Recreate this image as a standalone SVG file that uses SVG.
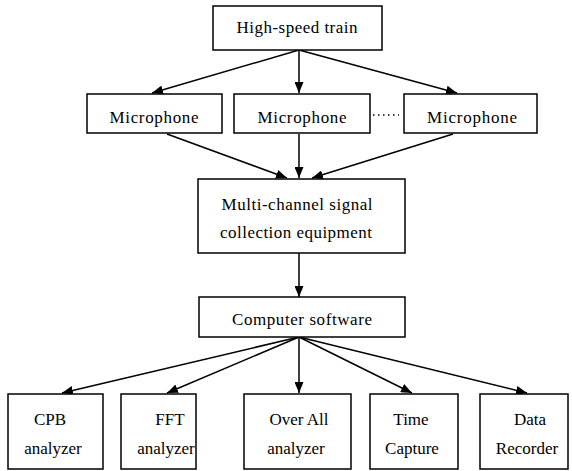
<svg xmlns="http://www.w3.org/2000/svg" width="572" height="471" viewBox="0 0 572 471">
<defs>
<style>
.box{fill:#fff;stroke:#000;stroke-width:1.5}
.t{font-family:'Liberation Serif','Times New Roman',serif;font-size:17px;fill:#000;text-anchor:middle}
.c{stroke:#000;stroke-width:1.5;fill:none}
</style>
<marker id="ah" viewBox="0 0 11 9" refX="11" refY="4.5" markerWidth="11" markerHeight="9" markerUnits="userSpaceOnUse" orient="auto">
<path d="M0,0 L11,4.5 L0,9 Z" fill="#000"/>
</marker>
</defs>
<rect width="572" height="471" fill="#fff"/>
<g id="connectors">
<line class="c" x1="299" y1="50" x2="152" y2="93" marker-end="url(#ah)"/>
<line class="c" x1="299" y1="50" x2="299" y2="93" marker-end="url(#ah)"/>
<line class="c" x1="299" y1="50" x2="457" y2="93" marker-end="url(#ah)"/>
<line class="c" x1="167" y1="134" x2="287" y2="178" marker-end="url(#ah)"/>
<line class="c" x1="299" y1="134" x2="299" y2="178" marker-end="url(#ah)"/>
<line class="c" x1="453" y1="134" x2="312" y2="178" marker-end="url(#ah)"/>
<line class="c" x1="299" y1="253" x2="299" y2="297" marker-end="url(#ah)"/>
<line class="c" x1="299" y1="337" x2="62" y2="393" marker-end="url(#ah)"/>
<line class="c" x1="299" y1="337" x2="167" y2="393" marker-end="url(#ah)"/>
<line class="c" x1="299" y1="337" x2="299" y2="393" marker-end="url(#ah)"/>
<line class="c" x1="299" y1="337" x2="412" y2="393" marker-end="url(#ah)"/>
<line class="c" x1="299" y1="337" x2="527" y2="393" marker-end="url(#ah)"/>
<line x1="373" y1="115" x2="399" y2="115" stroke="#000" stroke-width="1.5" stroke-dasharray="1.5,3.5"/>
</g>
<g font-family="Liberation Serif, Times New Roman, serif">
<g id="train"><rect class="box" x="213" y="6" width="169" height="44"/><text class="t" x="297" y="33" textLength="121">High-speed train</text></g>
<g id="mic1"><rect class="box" x="87" y="94" width="135" height="39"/><text class="t" x="154" y="123" textLength="89">Microphone</text></g>
<g id="mic2"><rect class="box" x="234" y="94" width="136" height="39"/><text class="t" x="302" y="123" textLength="89">Microphone</text></g>
<g id="mic3"><rect class="box" x="404" y="94" width="133" height="39"/><text class="t" x="472" y="123" textLength="90">Microphone</text></g>
<g id="multi"><rect class="box" x="198" y="179" width="207" height="74"/><text class="t" x="297" y="210" textLength="151">Multi-channel signal</text><text class="t" x="296" y="238" textLength="152">collection equipment</text></g>
<g id="software"><rect class="box" x="199" y="297" width="206" height="40"/><text class="t" x="302" y="325" textLength="140">Computer software</text></g>
<g id="cpb"><rect class="box" x="8" y="394" width="95" height="75"/><text class="t" x="50" y="425">CPB</text><text class="t" x="53" y="454">analyzer</text></g>
<g id="fft"><rect class="box" x="121" y="394" width="75" height="75"/><text class="t" x="170" y="425">FFT</text><text class="t" x="166" y="454">analyzer</text></g>
<g id="overall"><rect class="box" x="244" y="394" width="107" height="75"/><text class="t" x="299" y="425">Over All</text><text class="t" x="296" y="454">analyzer</text></g>
<g id="time"><rect class="box" x="370" y="394" width="88" height="75"/><text class="t" x="411" y="425">Time</text><text class="t" x="412" y="454">Capture</text></g>
<g id="data"><rect class="box" x="480" y="394" width="88" height="75"/><text class="t" x="530" y="425">Data</text><text class="t" x="527" y="454">Recorder</text></g>
</g>
</svg>
